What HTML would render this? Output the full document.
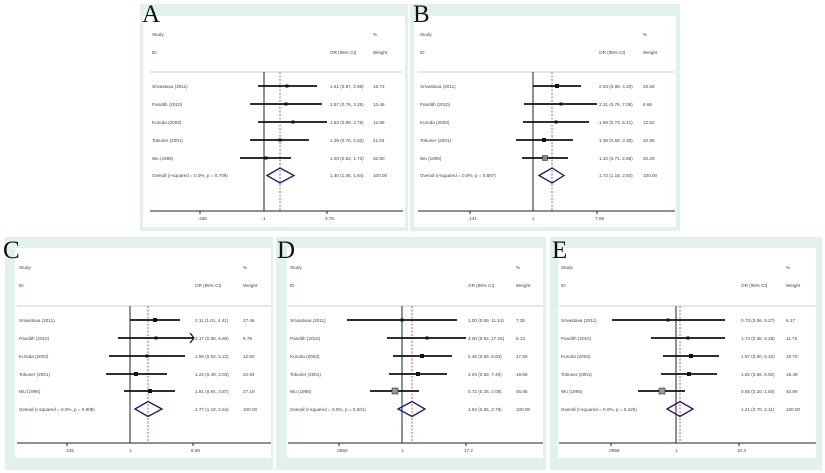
<!DOCTYPE html>
<html><head><meta charset="utf-8"><style>
html,body{margin:0;padding:0;background:#fff;}
svg{display:block;}
text{font-family:"Liberation Sans",sans-serif;fill:#444;}
.s{font-size:4.6px;}
.L{font-family:"Liberation Serif",serif;font-size:25px;fill:#111;}
.ln{stroke:#111;stroke-width:1.8;}
.ax{stroke:#222;stroke-width:1;}
.sp{stroke:#ccc;stroke-width:1;}
.rd{stroke:#b33;stroke-width:0.8;stroke-dasharray:2,1.5;}
.dm{fill:none;stroke:#1a1a6e;stroke-width:1.3;}
</style></head><body>
<svg width="825" height="473" viewBox="0 0 825 473" xmlns="http://www.w3.org/2000/svg">
<rect width="825" height="473" fill="#fff"/>
<rect x="140" y="4" width="268" height="227" fill="#e2f1ec"/>
<rect x="143" y="16" width="262" height="211" fill="#fff"/>
<rect x="410" y="4" width="270" height="227" fill="#e2f1ec"/>
<rect x="414" y="16" width="262" height="211" fill="#fff"/>
<rect x="5" y="237" width="268" height="233" fill="#e2f1ec"/>
<rect x="15" y="248" width="256" height="210" fill="#fff"/>
<rect x="276" y="237" width="270" height="233" fill="#e2f1ec"/>
<rect x="287" y="248" width="256" height="210" fill="#fff"/>
<rect x="550" y="237" width="272" height="233" fill="#e2f1ec"/>
<rect x="558" y="248" width="258" height="210" fill="#fff"/>

<text class="L" x="142" y="22">A</text>
<g>
<text class="s" x="152" y="36">Study</text><text class="s" x="373" y="36">%</text>
<text class="s" x="152" y="54">ID</text><text class="s" x="330" y="54">OR (95% CI)</text><text class="s" x="373" y="54">Weight</text>
<line class="sp" x1="150" y1="72" x2="403" y2="72"/>
<line class="ax" x1="264" y1="72" x2="264" y2="211"/>
<line class="rd" x1="280" y1="72" x2="280" y2="211"/>
<line class="ax" x1="150" y1="211" x2="403" y2="211"/>
<line class="ax" x1="200" y1="211" x2="200" y2="214"/><line class="ax" x1="327" y1="211" x2="327" y2="214"/>
<text class="s" x="198" y="220">.266</text><text class="s" x="263" y="220">1</text><text class="s" x="325" y="220">3.75</text>
<text class="s" x="152" y="88">Srivastava (2011)</text><line class="ln" x1="258" y1="86" x2="317" y2="86"/><rect x="285.5" y="84.5" width="3" height="3" fill="#111"/><text class="s" x="330" y="88">1.61 (0.87, 2.98)</text><text class="s" x="373" y="88">19.72</text>
<text class="s" x="152" y="106">Pandith (2010)</text><line class="ln" x1="250" y1="104" x2="322" y2="104"/><rect x="284.5" y="102.5" width="3" height="3" fill="#111"/><text class="s" x="330" y="106">1.57 (0.76, 3.26)</text><text class="s" x="373" y="106">13.46</text>
<text class="s" x="152" y="124">Kuroda (2003)</text><line class="ln" x1="258" y1="122" x2="327" y2="122"/><rect x="291.5" y="120.5" width="3" height="3" fill="#111"/><text class="s" x="330" y="124">1.83 (0.89, 3.75)</text><text class="s" x="373" y="124">12.98</text>
<text class="s" x="152" y="142">Tokuner (2001)</text><line class="ln" x1="250" y1="140" x2="309" y2="140"/><rect x="278.5" y="138.5" width="3" height="3" fill="#111"/><text class="s" x="330" y="142">1.39 (0.76, 2.53)</text><text class="s" x="373" y="142">21.04</text>
<text class="s" x="152" y="160">Wu (1995)</text><line class="ln" x1="240" y1="158" x2="291" y2="158"/><rect x="264.5" y="156.5" width="3" height="3" fill="#111"/><text class="s" x="330" y="160">1.03 (0.62, 1.73)</text><text class="s" x="373" y="160">32.80</text>
<text class="s" x="152" y="177">Overall  (I-squared = 0.0%, p = 0.709)</text><polygon class="dm" points="267,175.5 280,168 294,175.5 280,183"/><text class="s" x="330" y="177">1.40 (1.06, 1.84)</text><text class="s" x="373" y="177">100.00</text>
</g>

<text class="L" x="413" y="22">B</text>
<g>
<text class="s" x="420" y="36">Study</text><text class="s" x="643" y="36">%</text>
<text class="s" x="420" y="54">ID</text><text class="s" x="599" y="54">OR (95% CI)</text><text class="s" x="643" y="54">Weight</text>
<line class="sp" x1="418" y1="72" x2="675" y2="72"/>
<line class="ax" x1="533" y1="72" x2="533" y2="211"/>
<line class="rd" x1="552" y1="72" x2="552" y2="211"/>
<line class="ax" x1="418" y1="211" x2="675" y2="211"/>
<line class="ax" x1="470" y1="211" x2="470" y2="214"/><line class="ax" x1="597" y1="211" x2="597" y2="214"/>
<text class="s" x="468" y="220">.141</text><text class="s" x="532" y="220">1</text><text class="s" x="595" y="220">7.08</text>
<text class="s" x="420" y="88">Srivastava (2011)</text><line class="ln" x1="533" y1="86" x2="581" y2="86"/><rect x="555" y="84" width="4" height="4" fill="#111"/><text class="s" x="599" y="88">2.03 (0.98, 4.20)</text><text class="s" x="643" y="88">25.58</text>
<text class="s" x="420" y="106">Pandith (2010)</text><line class="ln" x1="524" y1="104" x2="597" y2="104"/><rect x="559.5" y="102.5" width="3" height="3" fill="#111"/><text class="s" x="599" y="106">2.31 (0.76, 7.08)</text><text class="s" x="643" y="106">8.66</text>
<text class="s" x="420" y="124">Kuroda (2003)</text><line class="ln" x1="523" y1="122" x2="589" y2="122"/><rect x="554.5" y="120.5" width="3" height="3" fill="#111"/><text class="s" x="599" y="124">1.99 (0.73, 5.41)</text><text class="s" x="643" y="124">12.62</text>
<text class="s" x="420" y="142">Tokuner (2001)</text><line class="ln" x1="516" y1="140" x2="573" y2="140"/><rect x="542" y="138" width="4" height="4" fill="#111"/><text class="s" x="599" y="142">1.39 (0.59, 3.30)</text><text class="s" x="643" y="142">20.85</text>
<text class="s" x="420" y="160">Wu (1995)</text><line class="ln" x1="522" y1="158" x2="568" y2="158"/><rect x="542.5" y="155.5" width="5" height="5" fill="#888" stroke="#111" stroke-width="0.5"/><text class="s" x="599" y="160">1.42 (0.71, 2.85)</text><text class="s" x="643" y="160">32.29</text>
<text class="s" x="420" y="177">Overall  (I-squared = 0.0%, p = 0.897)</text><polygon class="dm" points="539,175.5 552,168 564,175.5 552,183"/><text class="s" x="599" y="177">1.72 (1.18, 2.50)</text><text class="s" x="643" y="177">100.00</text>
</g>

<text class="L" x="3" y="258">C</text>
<g>
<text class="s" x="19" y="269">Study</text><text class="s" x="243" y="269">%</text>
<text class="s" x="19" y="287">ID</text><text class="s" x="195" y="287">OR (95% CI)</text><text class="s" x="243" y="287">Weight</text>
<line class="sp" x1="17" y1="306" x2="271" y2="306"/>
<line class="ax" x1="130" y1="306" x2="130" y2="443"/>
<line class="rd" x1="148" y1="306" x2="148" y2="443"/>
<line class="ax" x1="17" y1="443" x2="271" y2="443"/>
<line class="ax" x1="67" y1="443" x2="67" y2="446"/><line class="ax" x1="193" y1="443" x2="193" y2="446"/>
<text class="s" x="65" y="452">.145</text><text class="s" x="129" y="452">1</text><text class="s" x="191" y="452">6.89</text>
<text class="s" x="19" y="322">Srivastava (2011)</text><line class="ln" x1="130" y1="320" x2="180" y2="320"/><rect x="153" y="318" width="4" height="4" fill="#111"/><text class="s" x="195" y="322">2.11 (1.01, 4.41)</text><text class="s" x="243" y="322">27.48</text>
<text class="s" x="19" y="340">Pandith (2010)</text><line class="ln" x1="118" y1="338" x2="193" y2="338"/><polyline points="190,333 194,338 190,343" fill="none" stroke="#111" stroke-width="1.2"/><rect x="154.5" y="336.5" width="3" height="3" fill="#111"/><text class="s" x="195" y="340">2.17 (0.68, 6.89)</text><text class="s" x="243" y="340">9.79</text>
<text class="s" x="19" y="358">Kuroda (2003)</text><line class="ln" x1="109" y1="356" x2="185" y2="356"/><rect x="145.5" y="354.5" width="3" height="3" fill="#111"/><text class="s" x="195" y="358">1.66 (0.52, 5.22)</text><text class="s" x="243" y="358">12.60</text>
<text class="s" x="19" y="376">Tokuner (2001)</text><line class="ln" x1="106" y1="374" x2="167" y2="374"/><rect x="134" y="372" width="4" height="4" fill="#111"/><text class="s" x="195" y="376">1.22 (0.49, 3.03)</text><text class="s" x="243" y="376">22.94</text>
<text class="s" x="19" y="393">Wu (1995)</text><line class="ln" x1="124" y1="391" x2="175" y2="391"/><rect x="148" y="389" width="4" height="4" fill="#111"/><text class="s" x="195" y="393">1.81 (0.84, 3.87)</text><text class="s" x="243" y="393">27.18</text>
<text class="s" x="19" y="411">Overall  (I-squared = 0.0%, p = 0.909)</text><polygon class="dm" points="135,409 148,401.5 162,409 148,416.5"/><text class="s" x="195" y="411">1.77 (1.19, 2.64)</text><text class="s" x="243" y="411">100.00</text>
</g>

<text class="L" x="277" y="258">D</text>
<g>
<text class="s" x="290" y="269">Study</text><text class="s" x="516" y="269">%</text>
<text class="s" x="290" y="287">ID</text><text class="s" x="468" y="287">OR (95% CI)</text><text class="s" x="516" y="287">Weight</text>
<line class="sp" x1="288" y1="306" x2="543" y2="306"/>
<line class="ax" x1="402" y1="306" x2="402" y2="443"/>
<line class="rd" x1="412" y1="306" x2="412" y2="443"/>
<line class="ax" x1="288" y1="443" x2="543" y2="443"/>
<line class="ax" x1="339" y1="443" x2="339" y2="446"/><line class="ax" x1="466" y1="443" x2="466" y2="446"/>
<text class="s" x="336" y="452">.0582</text><text class="s" x="401" y="452">1</text><text class="s" x="464" y="452">17.2</text>
<text class="s" x="290" y="322">Srivastava (2011)</text><line class="ln" x1="347" y1="320" x2="457" y2="320"/><rect x="400.5" y="318.5" width="3" height="3" fill="#111"/><text class="s" x="468" y="322">1.00 (0.09, 11.51)</text><text class="s" x="516" y="322">7.35</text>
<text class="s" x="290" y="340">Pandith (2010)</text><line class="ln" x1="387" y1="338" x2="466" y2="338"/><rect x="425.5" y="336.5" width="3" height="3" fill="#111"/><text class="s" x="468" y="340">3.00 (0.52, 17.16)</text><text class="s" x="516" y="340">9.13</text>
<text class="s" x="290" y="358">Kuroda (2003)</text><line class="ln" x1="393" y1="356" x2="452" y2="356"/><rect x="420" y="354" width="4" height="4" fill="#111"/><text class="s" x="468" y="358">2.46 (0.69, 8.83)</text><text class="s" x="516" y="358">17.89</text>
<text class="s" x="290" y="376">Tokuner (2001)</text><line class="ln" x1="389" y1="374" x2="447" y2="374"/><rect x="416" y="372" width="4" height="4" fill="#111"/><text class="s" x="468" y="376">2.04 (0.56, 7.40)</text><text class="s" x="516" y="376">19.68</text>
<text class="s" x="290" y="393">Wu (1995)</text><line class="ln" x1="370" y1="391" x2="419" y2="391"/><rect x="392" y="388" width="6" height="6" fill="#999" stroke="#111" stroke-width="0.5"/><text class="s" x="468" y="393">0.72 (0.25, 2.09)</text><text class="s" x="516" y="393">45.95</text>
<text class="s" x="290" y="411">Overall  (I-squared = 0.0%, p = 0.501)</text><polygon class="dm" points="398,409 412,401.5 425,409 412,416.5"/><text class="s" x="468" y="411">1.53 (0.85, 2.79)</text><text class="s" x="516" y="411">100.00</text>
</g>

<text class="L" x="552" y="258">E</text>
<g>
<text class="s" x="561" y="269">Study</text><text class="s" x="786" y="269">%</text>
<text class="s" x="561" y="287">ID</text><text class="s" x="741" y="287">OR (95% CI)</text><text class="s" x="786" y="287">Weight</text>
<line class="sp" x1="559" y1="306" x2="816" y2="306"/>
<line class="ax" x1="676" y1="306" x2="676" y2="443"/>
<line class="rd" x1="680" y1="306" x2="680" y2="443"/>
<line class="ax" x1="559" y1="443" x2="816" y2="443"/>
<line class="ax" x1="611" y1="443" x2="611" y2="446"/><line class="ax" x1="739" y1="443" x2="739" y2="446"/>
<text class="s" x="608" y="452">.0968</text><text class="s" x="675" y="452">1</text><text class="s" x="737" y="452">10.3</text>
<text class="s" x="561" y="322">Srivastava (2011)</text><line class="ln" x1="612" y1="320" x2="725" y2="320"/><rect x="666.5" y="318.5" width="3" height="3" fill="#111"/><text class="s" x="741" y="322">0.73 (0.06, 8.27)</text><text class="s" x="786" y="322">6.17</text>
<text class="s" x="561" y="340">Pandith (2010)</text><line class="ln" x1="651" y1="338" x2="725" y2="338"/><rect x="686.5" y="336.5" width="3" height="3" fill="#111"/><text class="s" x="741" y="340">1.73 (0.36, 8.28)</text><text class="s" x="786" y="340">11.76</text>
<text class="s" x="561" y="358">Kuroda (2003)</text><line class="ln" x1="663" y1="356" x2="719" y2="356"/><rect x="689" y="354" width="4" height="4" fill="#111"/><text class="s" x="741" y="358">1.97 (0.60, 6.42)</text><text class="s" x="786" y="358">19.70</text>
<text class="s" x="561" y="376">Tokuner (2001)</text><line class="ln" x1="661" y1="374" x2="717" y2="374"/><rect x="687" y="372" width="4" height="4" fill="#111"/><text class="s" x="741" y="376">1.82 (0.56, 5.92)</text><text class="s" x="786" y="376">19.48</text>
<text class="s" x="561" y="393">Wu (1995)</text><line class="ln" x1="638" y1="391" x2="685" y2="391"/><rect x="659" y="388" width="6" height="6" fill="#999" stroke="#111" stroke-width="0.5"/><text class="s" x="741" y="393">0.55 (0.20, 1.50)</text><text class="s" x="786" y="393">40.89</text>
<text class="s" x="561" y="411">Overall  (I-squared = 0.0%, p = 0.425)</text><polygon class="dm" points="667,409 680,401.5 693,409 680,416.5"/><text class="s" x="741" y="411">1.21 (0.70, 2.11)</text><text class="s" x="786" y="411">100.00</text>
</g>
</svg>
</body></html>
